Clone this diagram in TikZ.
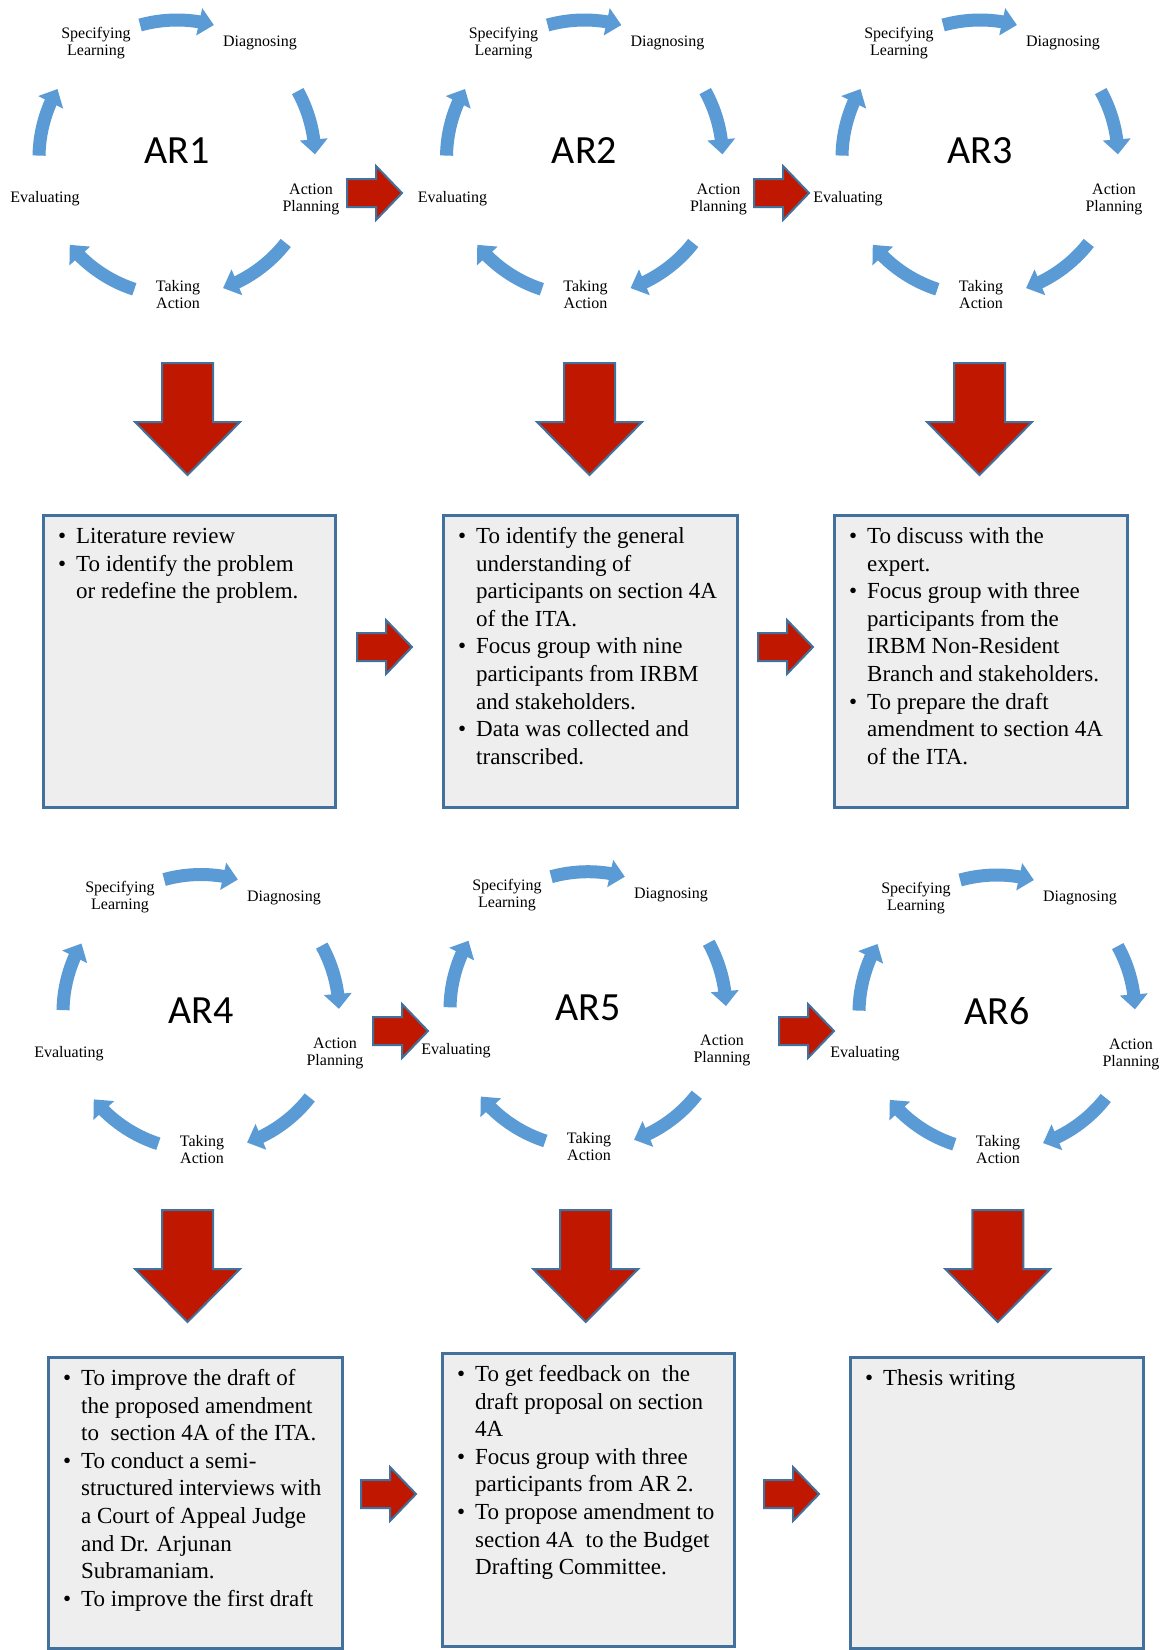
\documentclass[tikz,border=0pt]{standalone}
\usepackage{fontspec}
\setmainfont{Liberation Serif}
\newfontfamily\arfont{Carlito}
\usetikzlibrary{arrows.meta,bending,calc}
\definecolor{cycblue}{RGB}{91,155,213}
\definecolor{blockred}{RGB}{192,24,0}
\definecolor{edgeblue}{RGB}{65,113,156}
\definecolor{boxfill}{RGB}{238,238,238}
\tikzset{
  cyclabel/.style={font=\fontsize{16pt}{17pt}\selectfont, align=center, inner sep=0pt},
  cycarrow/.style={draw=cycblue, line width=13pt, -{Triangle[width=27pt,length=15pt]}},
  artitle/.style={font=\arfont\fontsize{40pt}{48pt}\selectfont, inner sep=0pt},
  blockarrow/.style={fill=blockred, draw=edgeblue, line width=2pt, line join=miter},
  infobox/.style={fill=boxfill, draw=edgeblue, line width=2.5pt, anchor=north west, inner sep=0pt},
  boxtext/.style={font=\fontsize{23pt}{27.6pt}\selectfont, inner sep=0pt, anchor=north west},
}
\newcommand\bul{\makebox[18pt][l]{•}}
% #1 name, #2 x, #3 y, #4 title, #5 title dy
\newcommand\arcycle[5]{%
  \coordinate (#1c) at (#2,#3);
  \node[artitle] (#1t) at ($(#1c)+(0,#5)$) {#4};
  \node[cyclabel] (#1sl) at ($(#1c)+(-81,-115)$) {Specifying\\Learning};
  \node[cyclabel] (#1dg) at ($(#1c)+(83,-115)$) {Diagnosing};
  \node[cyclabel] (#1ap) at ($(#1c)+(134,41)$) {Action\\Planning};
  \node[cyclabel] (#1ta) at ($(#1c)+(1,137)$) {Taking\\Action};
  \node[cyclabel] (#1ev) at ($(#1c)+(-132,41)$) {Evaluating};
  \foreach \sa/\ea in {105.5/74.5, 29/1.5, -38/-70.5, -108/-141, 179/150}{
    \draw[cycarrow] ($(#1c)+(\sa:138pt)$) arc[start angle=\sa, end angle=\ea, radius=138pt];
  }
}
% #1 centre x, #2 top y
\newcommand\blockdownarrow[2]{%
  \draw[blockarrow] (#1-25.5,#2) -- (#1+25.5,#2) -- (#1+25.5,#2+59) -- (#1+52.5,#2+59)
    -- (#1,#2+112) -- (#1-52.5,#2+59) -- (#1-25.5,#2+59) -- cycle;
}
% #1 left x, #2 centre y
\newcommand\blockrightarrow[2]{%
  \draw[blockarrow] (#1,#2-14) -- (#1+29,#2-14) -- (#1+29,#2-27) -- (#1+55,#2)
    -- (#1+29,#2+27) -- (#1+29,#2+14) -- (#1,#2+14) -- cycle;
}
\begin{document}
\begin{tikzpicture}[x=1pt,y=-1pt]
\useasboundingbox (0,0) rectangle (1162,1650);
\fill[white] (0,0) rectangle (1162,1650);

% cycles
\arcycle{ar1}{177}{158}{AR1}{-7}
\arcycle{ar2}{584.5}{158}{AR2}{-7}
\arcycle{ar3}{980}{158}{AR3}{-7}
\arcycle{ar4}{201}{1012.5}{AR4}{-1.5}
\arcycle{ar5}{588}{1009.7}{AR5}{-1.5}
\arcycle{ar6}{997}{1013}{AR6}{-1.5}

% arrows between cycles
\blockrightarrow{347}{193}
\blockrightarrow{754}{193}
\blockrightarrow{373}{1031}
\blockrightarrow{779}{1031}

% down arrows
\blockdownarrow{187.5}{363}
\blockdownarrow{589.5}{363}
\blockdownarrow{979.5}{363}
\blockdownarrow{187.5}{1210}
\blockdownarrow{585.7}{1210}
\blockdownarrow{997.8}{1210}

% boxes
\node[infobox, minimum width=292pt, minimum height=292pt] (b1) at (42,514) {};
\node[infobox, minimum width=294pt, minimum height=292pt] (b2) at (442,514) {};
\node[infobox, minimum width=293pt, minimum height=292pt] (b3) at (833,514) {};
\node[infobox, minimum width=294pt, minimum height=291pt] (b4) at (47,1356) {};
\node[infobox, minimum width=292pt, minimum height=293pt] (b5) at (441,1352) {};
\node[infobox, minimum width=293pt, minimum height=291pt] (b6) at (849,1356) {};

\node[boxtext] (t1) at (58,524) {\begin{tabular}{@{}l@{}l@{}}
\bul & Literature review\\
\bul & To identify the problem\\
 & or redefine the problem.
\end{tabular}};
\node[boxtext] (t2) at (458,524) {\begin{tabular}{@{}l@{}l@{}}
\bul & To identify the general\\
 & understanding of\\
 & participants on section 4A\\
 & of the ITA.\\
\bul & Focus group with nine\\
 & participants from IRBM\\
 & and stakeholders.\\
\bul & Data was collected and\\
 & transcribed.
\end{tabular}};
\node[boxtext] (t3) at (849,524) {\begin{tabular}{@{}l@{}l@{}}
\bul & To discuss with the\\
 & expert.\\
\bul & Focus group with three\\
 & participants from the\\
 & IRBM Non-Resident\\
 & Branch and stakeholders.\\
\bul & To prepare the draft\\
 & amendment to section 4A\\
 & of the ITA.
\end{tabular}};
\node[boxtext] (t4) at (63,1366) {\begin{tabular}{@{}l@{}l@{}}
\bul & To improve the draft of\\
 & the proposed amendment\\
 & to~ section 4A of the ITA.\\
\bul & To conduct a semi-\\
 & structured interviews with\\
 & a Court of Appeal Judge\\
 & and Dr. Arjunan\\
 & Subramaniam.\\
\bul & To improve the first draft
\end{tabular}};
\node[boxtext] (t5) at (457,1362) {\begin{tabular}{@{}l@{}l@{}}
\bul & To get feedback on~ the\\
 & draft proposal on section\\
 & 4A\\
\bul & Focus group with three\\
 & participants from AR 2.\\
\bul & To propose amendment to\\
 & section 4A~ to the Budget\\
 & Drafting Committee.
\end{tabular}};
\node[boxtext] (t6) at (865,1366) {\begin{tabular}{@{}l@{}l@{}}
\bul & Thesis writing
\end{tabular}};

% arrows between boxes
\blockrightarrow{357}{647}
\blockrightarrow{758}{647}
\blockrightarrow{361}{1494}
\blockrightarrow{764}{1494}
\end{tikzpicture}
\end{document}
